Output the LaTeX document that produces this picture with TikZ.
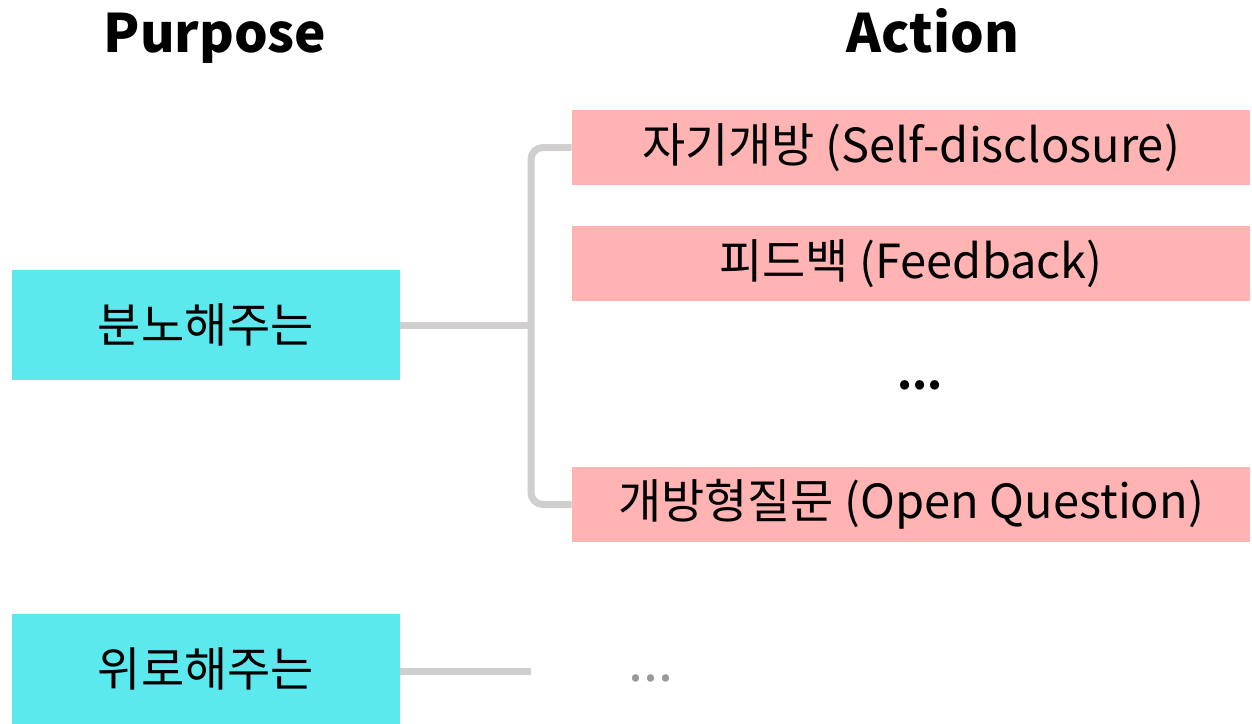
\documentclass[tikz,border=0pt]{standalone}
\usepackage{fontspec}
\setmainfont{Noto Sans CJK KR}
\usepackage{tikz}
\usetikzlibrary{positioning}
\definecolor{purposecyan}{RGB}{91,233,238}
\definecolor{actionpink}{RGB}{255,179,179}
\definecolor{linkgray}{RGB}{208,206,207}
\definecolor{dotgray}{RGB}{153,153,153}

\begin{document}
\begin{tikzpicture}[
  x=0.5pt, y=-0.5pt,
  heading/.style={anchor=base, font=\fontsize{26.5}{30}\selectfont\bfseries},
  purpose/.style={rectangle, fill=purposecyan, minimum width=194pt, minimum height=55pt, inner sep=0pt, font=\fontsize{23.5}{28}\selectfont},
  action/.style={rectangle, fill=actionpink, minimum width=339pt, minimum height=37.5pt, inner sep=0pt, font=\fontsize{23.5}{28}\selectfont},
  dots/.style={font=\fontsize{27}{30}\selectfont},
  link/.style={draw=linkgray, line width=3.5pt},
]
  \useasboundingbox (0,0) rectangle (1252,723);

  \node[heading] (purposehead) at (215,52) {Purpose};
  \node[heading] (actionhead) at (933,52) {Action};

  \node[purpose] (anger) at (206,325) {분노해주는};
  \node[purpose] (comfort) at (206,669) {위로해주는};

  \node[action] (selfdisc) at (911,147.5) {자기개방 (Self-disclosure)};
  \node[action] (feedback) at (911,263.5) {피드백 (Feedback)};
  \node[font=\fontsize{21.5}{26}\selectfont\bfseries] (moredots) at (920,385) {...};
  \node[action] (openq) at (911,504.5) {개방형질문 (Open Question)};

  \coordinate (branch) at (531,325);
  \coordinate (branchend) at (531,671);

  \draw[link] (anger.east) -- (branch);
  \draw[link, rounded corners=6pt] (selfdisc.west) -| (branch) |- (openq.west);
  \draw[link] (comfort.east |- branchend) -- (branchend);

  \node[dots, text=dotgray] (comfortdots) at (651,678) {...};
\end{tikzpicture}
\end{document}
